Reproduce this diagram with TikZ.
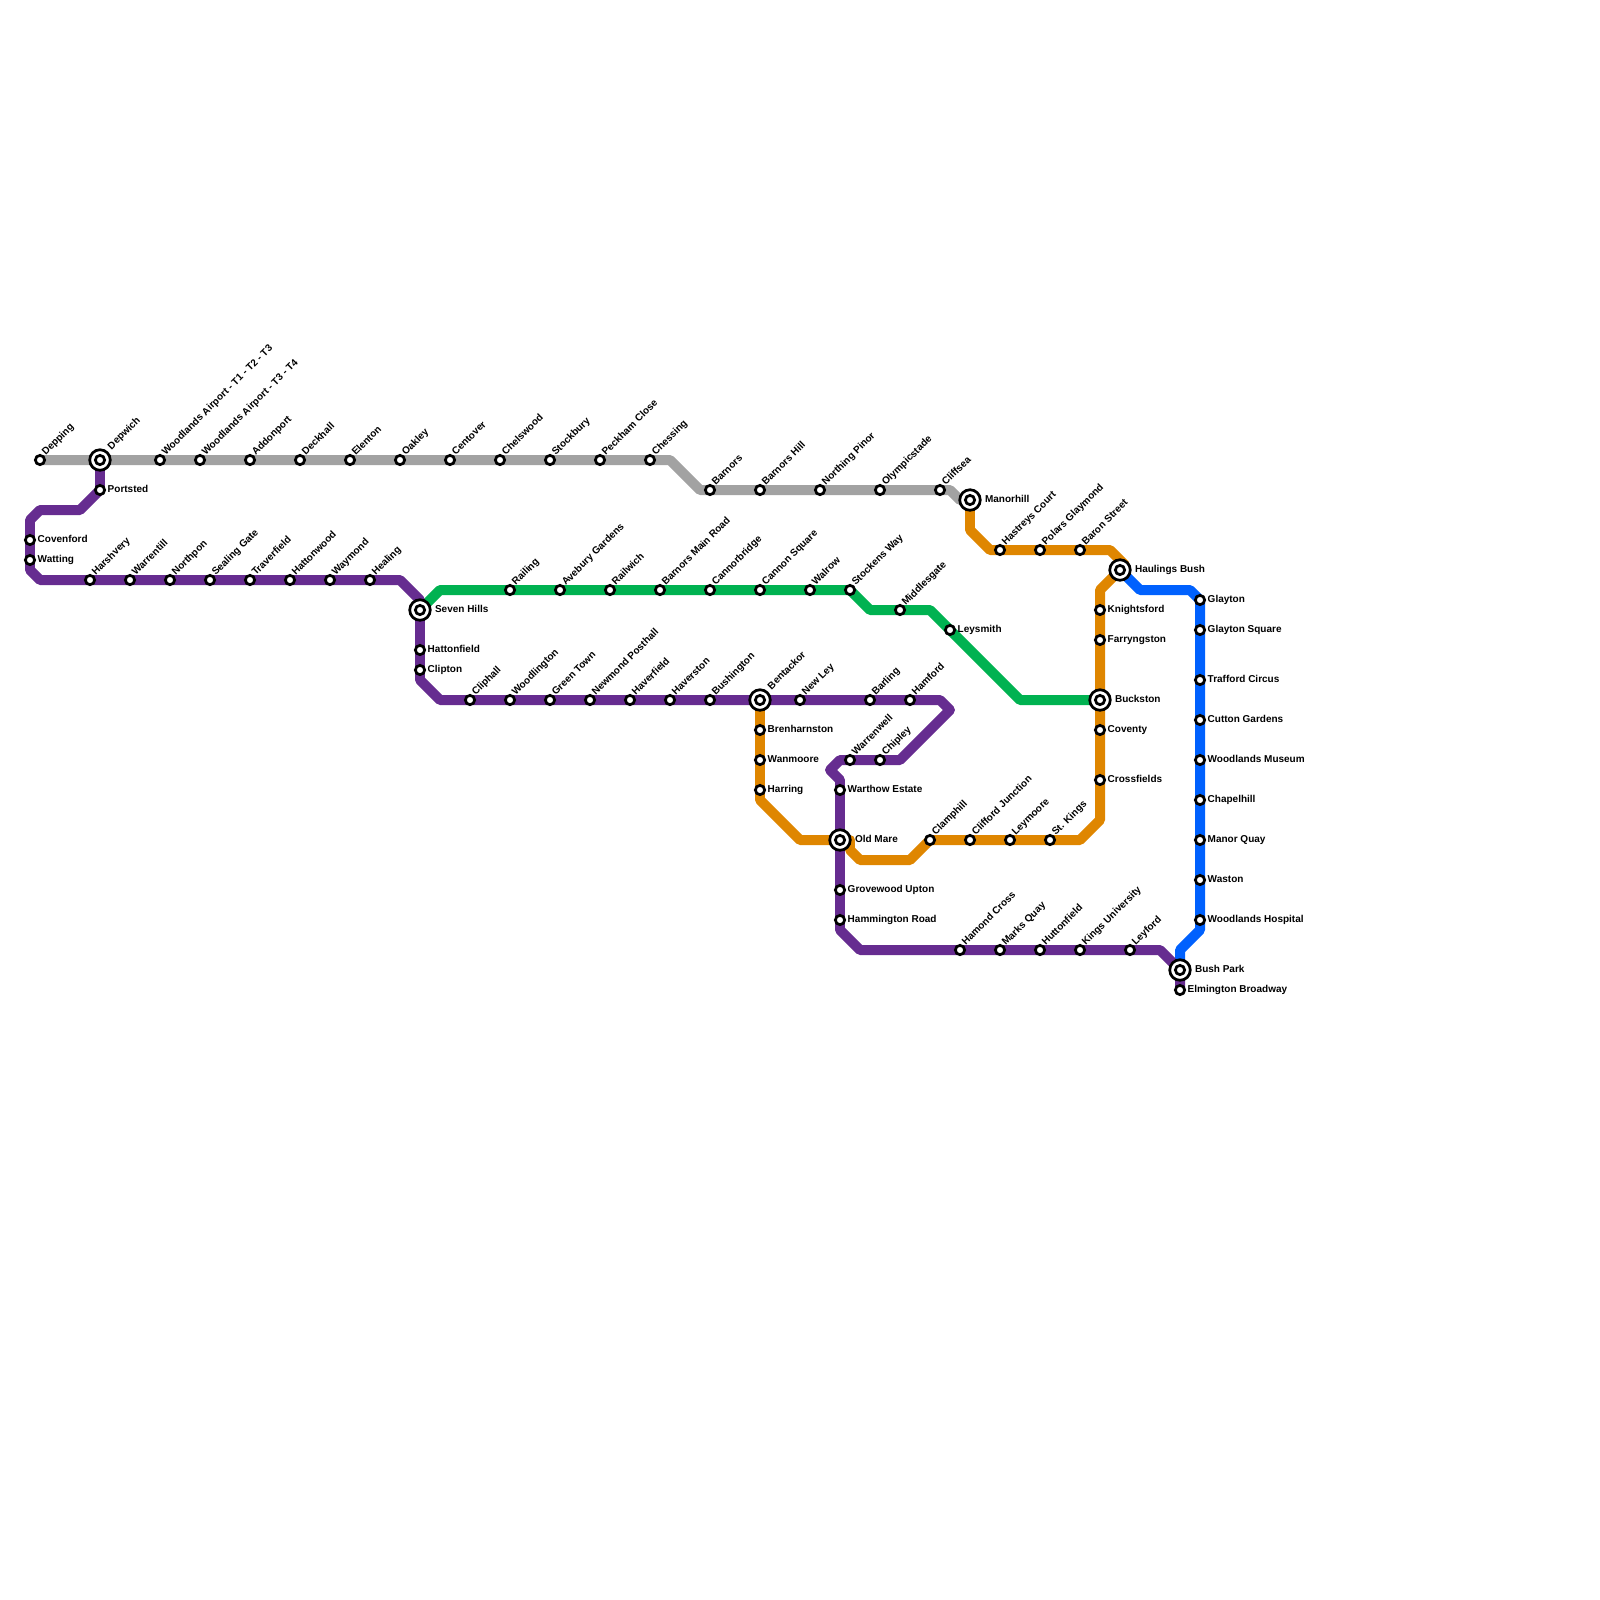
\documentclass[tikz,border=0pt]{standalone}
\usepackage{fontspec}
\newfontfamily\lblfont{Liberation Sans}[BoldFont={Liberation Sans Bold}]
\usetikzlibrary{backgrounds}
\definecolor{greyline}{HTML}{A2A2A2}
\definecolor{purpleline}{HTML}{662C90}
\definecolor{orangeline}{HTML}{DF8600}
\definecolor{greenline}{HTML}{00B251}
\definecolor{blueline}{HTML}{0061FE}
\tikzset{
  route/.style={line width=7.1pt, line join=round},
  lbl/.style={font=\lblfont\bfseries\fontsize{7.11}{8}\selectfont, inner sep=0pt, outer sep=0pt, text height=5.6pt, text depth=1.5pt},
  stop/.style={circle, draw=black, fill=white, line width=1.95pt, minimum size=6.6pt, inner sep=0pt, outer sep=0pt},
  hub/.style={circle, draw=black, fill=white, line width=1.95pt, minimum size=14.6pt, inner sep=0pt, outer sep=0pt},
  nr/.style={label={[lbl, xshift=2.2pt, yshift=.15pt]0:#1}},
  nu/.style={label={[lbl, xshift=-.55pt, yshift=4.35pt, rotate=45]0:#1}},
  hr/.style={label={[lbl, xshift=3.4pt, yshift=.15pt]0:#1}},
  hu/.style={label={[lbl, xshift=-.45pt, yshift=8.55pt, rotate=45]0:#1}},
}
\begin{document}
\begin{tikzpicture}[x=0.25cm, y=-0.25cm]
  \useasboundingbox (0,0) rectangle (160,160);
  % grey line stations
  \node[stop, nu=Depping] (depping) at (4,46) {};
  \node[hub, hu=Depwich] (depwich) at (10,46) {};
  \node[stop] (depwichc) at (10,46) {};
  \node[stop, nu={Woodlands Airport - T1 - T2 - T3}] (airporta) at (16,46) {};
  \node[stop, nu={Woodlands Airport - T3 - T4}] (airportb) at (20,46) {};
  \node[stop, nu=Addonport] (addonport) at (25,46) {};
  \node[stop, nu=Deckhall] (deckhall) at (30,46) {};
  \node[stop, nu=Elenton] (elenton) at (35,46) {};
  \node[stop, nu=Oakley] (oakley) at (40,46) {};
  \node[stop, nu=Centover] (centover) at (45,46) {};
  \node[stop, nu=Chelswood] (chelswood) at (50,46) {};
  \node[stop, nu=Stockbury] (stockbury) at (55,46) {};
  \node[stop, nu={Peckham Close}] (peckham) at (60,46) {};
  \node[stop, nu=Chessing] (chessing) at (65,46) {};
  \node[stop, nu=Barnors] (barnors) at (71,49) {};
  \node[stop, nu={Barnors Hill}] (barnorshill) at (76,49) {};
  \node[stop, nu={Northing Pinor}] (northing) at (82,49) {};
  \node[stop, nu=Olympicstade] (olympicstade) at (88,49) {};
  \node[stop, nu=Cliffsea] (cliffsea) at (94,49) {};
  \node[hub, hr=Manorhill] (manorhill) at (97,50) {};
  \node[stop] (manorhillc) at (97,50) {};
  % upper orange line stations
  \node[stop, nu={Hastreys Court}] (hastreys) at (100,55) {};
  \node[stop, nu={Polars Glaymond}] (polars) at (104,55) {};
  \node[stop, nu={Baron Street}] (baron) at (108,55) {};
  \node[hub, hr={Haulings Bush}] (haulings) at (112,57) {};
  \node[stop] (haulingsc) at (112,57) {};
  \node[stop, nr=Knightsford] (knightsford) at (110,61) {};
  \node[stop, nr=Farryngston] (farryngston) at (110,64) {};
  \node[hub, hr=Buckston] (buckston) at (110,70) {};
  \node[stop] (buckstonc) at (110,70) {};
  \node[stop, nr=Coventy] (coventy) at (110,73) {};
  \node[stop, nr=Crossfields] (crossfields) at (110,78) {};
  \node[stop, nu={St. Kings}] (stkings) at (105,84) {};
  \node[stop, nu=Leymoore] (leymoore) at (101,84) {};
  \node[stop, nu={Clifford Junction}] (clifford) at (97,84) {};
  \node[stop, nu=Clamphill] (clamphill) at (93,84) {};
  \node[hub, hr={Old Mare}] (oldmare) at (84,84) {};
  \node[stop] (oldmarec) at (84,84) {};
  \node[stop, nr=Harring] (harring) at (76,79) {};
  \node[stop, nr=Wanmoore] (wanmoore) at (76,76) {};
  \node[stop, nr=Brenharnston] (brenharnston) at (76,73) {};
  % purple line stations
  \node[stop, nr=Portsted] (portsted) at (10,49) {};
  \node[stop, nr=Covenford] (covenford) at (3,54) {};
  \node[stop, nr=Watting] (watting) at (3,56) {};
  \node[stop, nu=Harshvery] (harshvery) at (9,58) {};
  \node[stop, nu=Warrentill] (warrentill) at (13,58) {};
  \node[stop, nu=Northpon] (northpon) at (17,58) {};
  \node[stop, nu={Sealing Gate}] (sealing) at (21,58) {};
  \node[stop, nu=Traverfield] (traverfield) at (25,58) {};
  \node[stop, nu=Hattonwood] (hattonwood) at (29,58) {};
  \node[stop, nu=Waymond] (waymond) at (33,58) {};
  \node[stop, nu=Healing] (healing) at (37,58) {};
  \node[hub, hr={Seven Hills}] (sevenhills) at (42,61) {};
  \node[stop] (sevenhillsc) at (42,61) {};
  \node[stop, nr=Hattonfield] (hattonfield) at (42,65) {};
  \node[stop, nr=Clipton] (clipton) at (42,67) {};
  \node[stop, nu=Cliphall] (cliphall) at (47,70) {};
  \node[stop, nu=Woodlington] (woodlington) at (51,70) {};
  \node[stop, nu={Green Town}] (greentown) at (55,70) {};
  \node[stop, nu={Newmond Posthall}] (newmond) at (59,70) {};
  \node[stop, nu=Haverfield] (haverfield) at (63,70) {};
  \node[stop, nu=Haverston] (haverston) at (67,70) {};
  \node[stop, nu=Bushington] (bushington) at (71,70) {};
  \node[hub, hu=Bentackor] (bentackor) at (76,70) {};
  \node[stop] (bentackorc) at (76,70) {};
  \node[stop, nu={New Ley}] (newley) at (80,70) {};
  \node[stop, nu=Barling] (barling) at (87,70) {};
  \node[stop, nu=Hamford] (hamford) at (91,70) {};
  \node[stop, nu=Chipley] (chipley) at (88,76) {};
  \node[stop, nu=Warrenwell] (warrenwell) at (85,76) {};
  \node[stop, nr={Warthow Estate}] (warthow) at (84,79) {};
  \node[stop, nr={Grovewood Upton}] (grovewood) at (84,89) {};
  \node[stop, nr={Hammington Road}] (hammington) at (84,92) {};
  \node[stop, nu={Hamond Cross}] (hamond) at (96,95) {};
  \node[stop, nu={Marks Quay}] (marksquay) at (100,95) {};
  \node[stop, nu=Huttonfield] (huttonfield) at (104,95) {};
  \node[stop, nu={Kings University}] (kingsuni) at (108,95) {};
  \node[stop, nu=Leyford] (leyford) at (113,95) {};
  \node[hub, hr={Bush Park}] (bushpark) at (118,97) {};
  \node[stop] (bushparkc) at (118,97) {};
  \node[stop, nr={Elmington Broadway}] (elmington) at (118,99) {};
  % green line stations
  \node[stop, nu=Railing] (railing) at (51,59) {};
  \node[stop, nu={Avebury Gardens}] (avebury) at (56,59) {};
  \node[stop, nu=Railwich] (railwich) at (61,59) {};
  \node[stop, nu={Barnors Main Road}] (barnorsmain) at (66,59) {};
  \node[stop, nu=Cannorbridge] (cannorbridge) at (71,59) {};
  \node[stop, nu={Cannon Square}] (cannonsq) at (76,59) {};
  \node[stop, nu=Walrow] (walrow) at (81,59) {};
  \node[stop, nu={Stockens Way}] (stockens) at (85,59) {};
  \node[stop, nu=Middlesgate] (middlesgate) at (90,61) {};
  \node[stop, nr=Leysmith] (leysmith) at (95,63) {};
  % blue line stations
  \node[stop, nr=Glayton] (glayton) at (120,60) {};
  \node[stop, nr={Glayton Square}] (glaytonsq) at (120,63) {};
  \node[stop, nr={Trafford Circus}] (trafford) at (120,68) {};
  \node[stop, nr={Cutton Gardens}] (cutton) at (120,72) {};
  \node[stop, nr={Woodlands Museum}] (museum) at (120,76) {};
  \node[stop, nr=Chapelhill] (chapelhill) at (120,80) {};
  \node[stop, nr={Manor Quay}] (manorquay) at (120,84) {};
  \node[stop, nr=Waston] (waston) at (120,88) {};
  \node[stop, nr={Woodlands Hospital}] (hospital) at (120,92) {};
  % the lines run under the stations
  \begin{scope}[on background layer]
    \draw[route, greyline] (depping.center) -- (depwich.center) -- (airporta.center) -- (airportb.center) -- (addonport.center) -- (deckhall.center) -- (elenton.center) -- (oakley.center) -- (centover.center) -- (chelswood.center) -- (stockbury.center) -- (peckham.center) -- (chessing.center) -- (67,46) -- (70,49) -- (barnors.center) -- (barnorshill.center) -- (northing.center) -- (olympicstade.center) -- (cliffsea.center) -- (95,49) -- (96,50) -- (manorhill.center);
    \draw[route, orangeline] (manorhill.center) -- (97,53) -- (99,55) -- (hastreys.center) -- (polars.center) -- (baron.center) -- (111,55) -- (112.5,56.5) -- (haulings.center);
    \draw[route, orangeline] (haulings.center) -- (110,59) -- (knightsford.center) -- (farryngston.center) -- (buckston.center) -- (coventy.center) -- (crossfields.center) -- (110,82) -- (108,84) -- (stkings.center) -- (leymoore.center) -- (clifford.center) -- (clamphill.center) -- (91,86) -- (86,86) -- (85,85) -- (85,84) -- (oldmare.center);
    \draw[route, orangeline] (oldmare.center) -- (80,84) -- (76,80) -- (harring.center) -- (wanmoore.center) -- (brenharnston.center) -- (bentackor.center);
    \draw[route, greenline] (sevenhills.center) -- (44,59) -- (railing.center) -- (avebury.center) -- (railwich.center) -- (barnorsmain.center) -- (cannorbridge.center) -- (cannonsq.center) -- (walrow.center) -- (stockens.center) -- (87,61) -- (middlesgate.center) -- (93,61) -- (leysmith.center) -- (102,70) -- (buckston.center);
    \draw[route, blueline] (haulings.center) -- (114,59) -- (119,59) -- (glayton.center) -- (glaytonsq.center) -- (trafford.center) -- (cutton.center) -- (museum.center) -- (chapelhill.center) -- (manorquay.center) -- (waston.center) -- (hospital.center) -- (120,93) -- (118,95) -- (bushpark.center);
    \draw[route, purpleline] (depwich.center) -- (portsted.center) -- (8,51) -- (4,51) -- (3,52) -- (covenford.center) -- (watting.center) -- (3,57) -- (4,58) -- (harshvery.center) -- (warrentill.center) -- (northpon.center) -- (sealing.center) -- (traverfield.center) -- (hattonwood.center) -- (waymond.center) -- (healing.center) -- (40,58) -- (42,60) -- (sevenhills.center) -- (hattonfield.center) -- (clipton.center) -- (42,68) -- (44,70) -- (cliphall.center) -- (woodlington.center) -- (greentown.center) -- (newmond.center) -- (haverfield.center) -- (haverston.center) -- (bushington.center) -- (bentackor.center) -- (newley.center) -- (barling.center) -- (hamford.center) -- (94,70) -- (95,71) -- (90,76) -- (chipley.center) -- (warrenwell.center) -- (84,76) -- (83,77) -- (84,78) -- (warthow.center) -- (oldmare.center) -- (grovewood.center) -- (hammington.center) -- (84,93) -- (86,95) -- (hamond.center) -- (marksquay.center) -- (huttonfield.center) -- (kingsuni.center) -- (leyford.center) -- (116,95) -- (118,97) -- (elmington.center);
  \end{scope}
\end{tikzpicture}
\end{document}
